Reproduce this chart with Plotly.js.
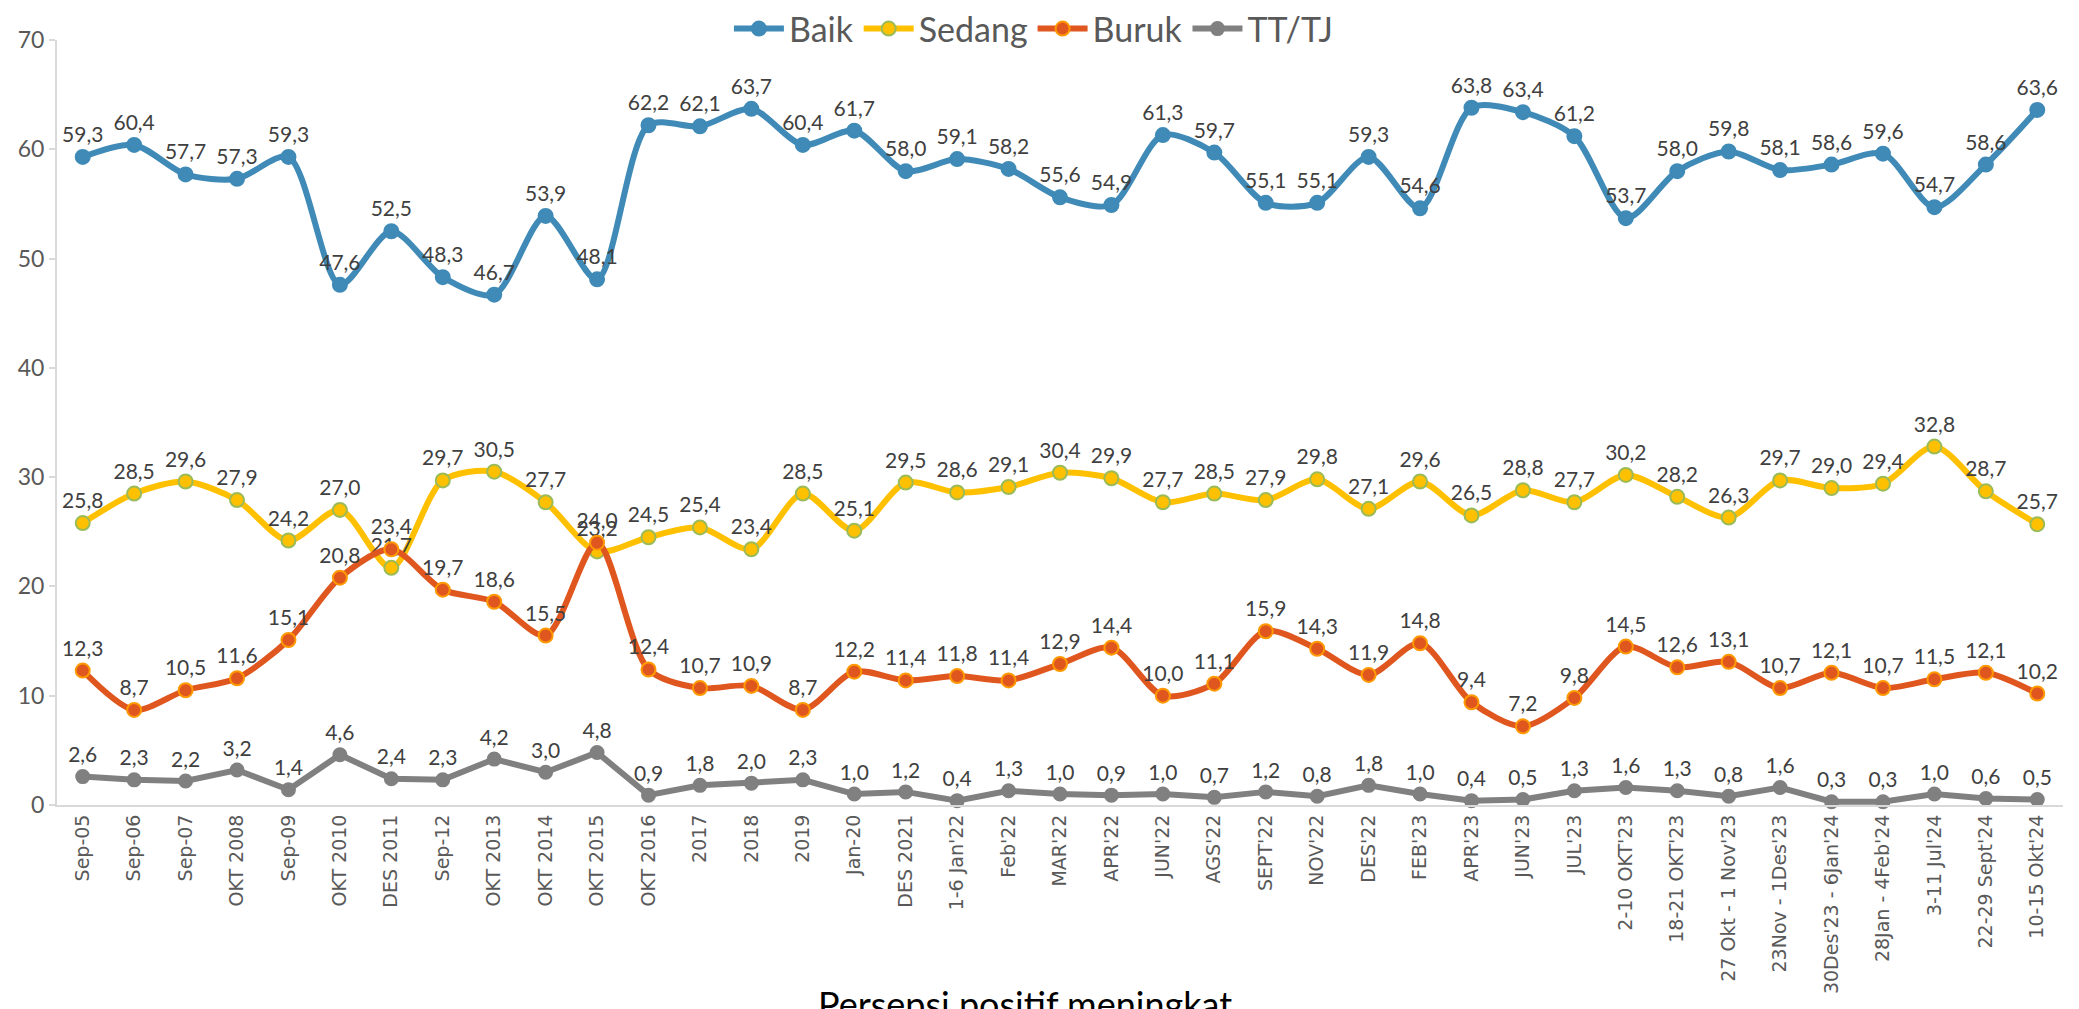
<!DOCTYPE html>
<html>
<head>
<meta charset="utf-8">
<script src="https://cdn.plot.ly/plotly-3.0.1.min.js"></script>
<style>html,body{margin:0;padding:0;background:#fff;}#chart{width:2079px;height:1009px;}</style>
</head>
<body>
<div id="chart"></div>
<script>
const categories = ["Sep-05","Sep-06","Sep-07","OKT 2008","Sep-09","OKT 2010","DES 2011","Sep-12","OKT 2013","OKT 2014","OKT 2015","OKT 2016","2017","2018","2019","Jan-20","DES 2021","1-6 Jan'22","Feb'22","MAR'22","APR'22","JUN'22","AGS'22","SEPT'22","NOV'22","DES'22","FEB'23","APR'23","JUN'23","JUL'23","2-10 OKT'23","18-21 OKT'23","27 Okt - 1 Nov'23","23Nov - 1Des'23","30Des'23 - 6Jan'24","28Jan - 4Feb'24","3-11 Jul'24","22-29 Sept'24","10-15 Okt'24"];
const baik = [59.3,60.4,57.7,57.3,59.3,47.6,52.5,48.3,46.7,53.9,48.1,62.2,62.1,63.7,60.4,61.7,58.0,59.1,58.2,55.6,54.9,61.3,59.7,55.1,55.1,59.3,54.6,63.8,63.4,61.2,53.7,58.0,59.8,58.1,58.6,59.6,54.7,58.6,63.6];
const sedang = [25.8,28.5,29.6,27.9,24.2,27.0,21.7,29.7,30.5,27.7,23.2,24.5,25.4,23.4,28.5,25.1,29.5,28.6,29.1,30.4,29.9,27.7,28.5,27.9,29.8,27.1,29.6,26.5,28.8,27.7,30.2,28.2,26.3,29.7,29.0,29.4,32.8,28.7,25.7];
const buruk = [12.3,8.7,10.5,11.6,15.1,20.8,23.4,19.7,18.6,15.5,24.0,12.4,10.7,10.9,8.7,12.2,11.4,11.8,11.4,12.9,14.4,10.0,11.1,15.9,14.3,11.9,14.8,9.4,7.2,9.8,14.5,12.6,13.1,10.7,12.1,10.7,11.5,12.1,10.2];
const tttj = [2.6,2.3,2.2,3.2,1.4,4.6,2.4,2.3,4.2,3.0,4.8,0.9,1.8,2.0,2.3,1.0,1.2,0.4,1.3,1.0,0.9,1.0,0.7,1.2,0.8,1.8,1.0,0.4,0.5,1.3,1.6,1.3,0.8,1.6,0.3,0.3,1.0,0.6,0.5];
const seriesNames = ["Baik","Sedang","Buruk","TT/TJ"];
const footnote = "Persepsi positif meningkat.";

const fmt = v => v.toFixed(1).replace('.', ',');
const labelFont = {family: "Lato, 'Open Sans', sans-serif", size: 21, color: "#404040"};

function trace(name, vals, color, mfill, mline, shape, lw, ms) {
  return {
    type: 'scatter', mode: 'lines+markers+text', name: name,
    x: categories, y: vals,
    text: vals.map(fmt), textposition: 'top center', textfont: labelFont,
    cliponaxis: false,
    line: {color: color, width: lw, shape: shape, smoothing: 0.8},
    marker: {size: ms, color: mfill, line: {color: mline, width: 2}},
    hoverinfo: 'x+y'
  };
}

const data = [
  trace(seriesNames[0], baik, '#3F8AB7', '#3F8AB7', '#3F8AB7', 'spline', 6, 14),
  trace(seriesNames[1], sedang, '#FFC000', '#FFC000', '#9BBB59', 'spline', 6, 14),
  trace(seriesNames[2], buruk, '#E0561F', '#E0561F', '#FF9900', 'spline', 6, 14),
  trace(seriesNames[3], tttj, '#808080', '#808080', '#808080', 'linear', 6, 13)
];

const layout = {
  width: 2079, height: 1009,
  margin: {l: 57, r: 16, t: 0, b: 204},
  paper_bgcolor: '#fff', plot_bgcolor: '#fff',
  font: {family: "Lato, 'Open Sans', sans-serif", color: '#595959'},
  showlegend: true,
  legend: {orientation: 'h', x: 0.487, xanchor: 'center', y: 1, yanchor: 'top',
           font: {size: 34, color: '#595959', family: "Lato, sans-serif"}, itemwidth: 50, tracegroupgap: 0, bgcolor: 'rgba(0,0,0,0)', borderwidth: 0},
  xaxis: {
    type: 'category', range: [-0.5, categories.length - 0.5],
    showline: true, linecolor: '#D9D9D9', linewidth: 2,
    showgrid: false, zeroline: false, ticks: '',
    tickangle: -90, tickfont: {family: "'DejaVu Sans', sans-serif", size: 19, color: '#595959'},
    automargin: false
  },
  yaxis: {
    domain: [0, 765/805],
    range: [0, 70], dtick: 10, tick0: 0,
    showline: true, linecolor: '#D9D9D9', linewidth: 2,
    showgrid: false, zeroline: false,
    ticks: 'outside', ticklen: 6, tickcolor: '#D9D9D9', tickwidth: 2,
    tickfont: {family: "Lato, sans-serif", size: 23, color: '#595959'},
    automargin: false
  },
  annotations: [{
    text: footnote, xref: 'paper', yref: 'paper', x: 0.485, y: -0.217,
    xanchor: 'center', yanchor: 'top', showarrow: false,
    font: {family: "Lato, sans-serif", size: 36, color: '#000'}
  }]
};

Plotly.newPlot('chart', data, layout, {displayModeBar: false});
</script>
</body>
</html>
